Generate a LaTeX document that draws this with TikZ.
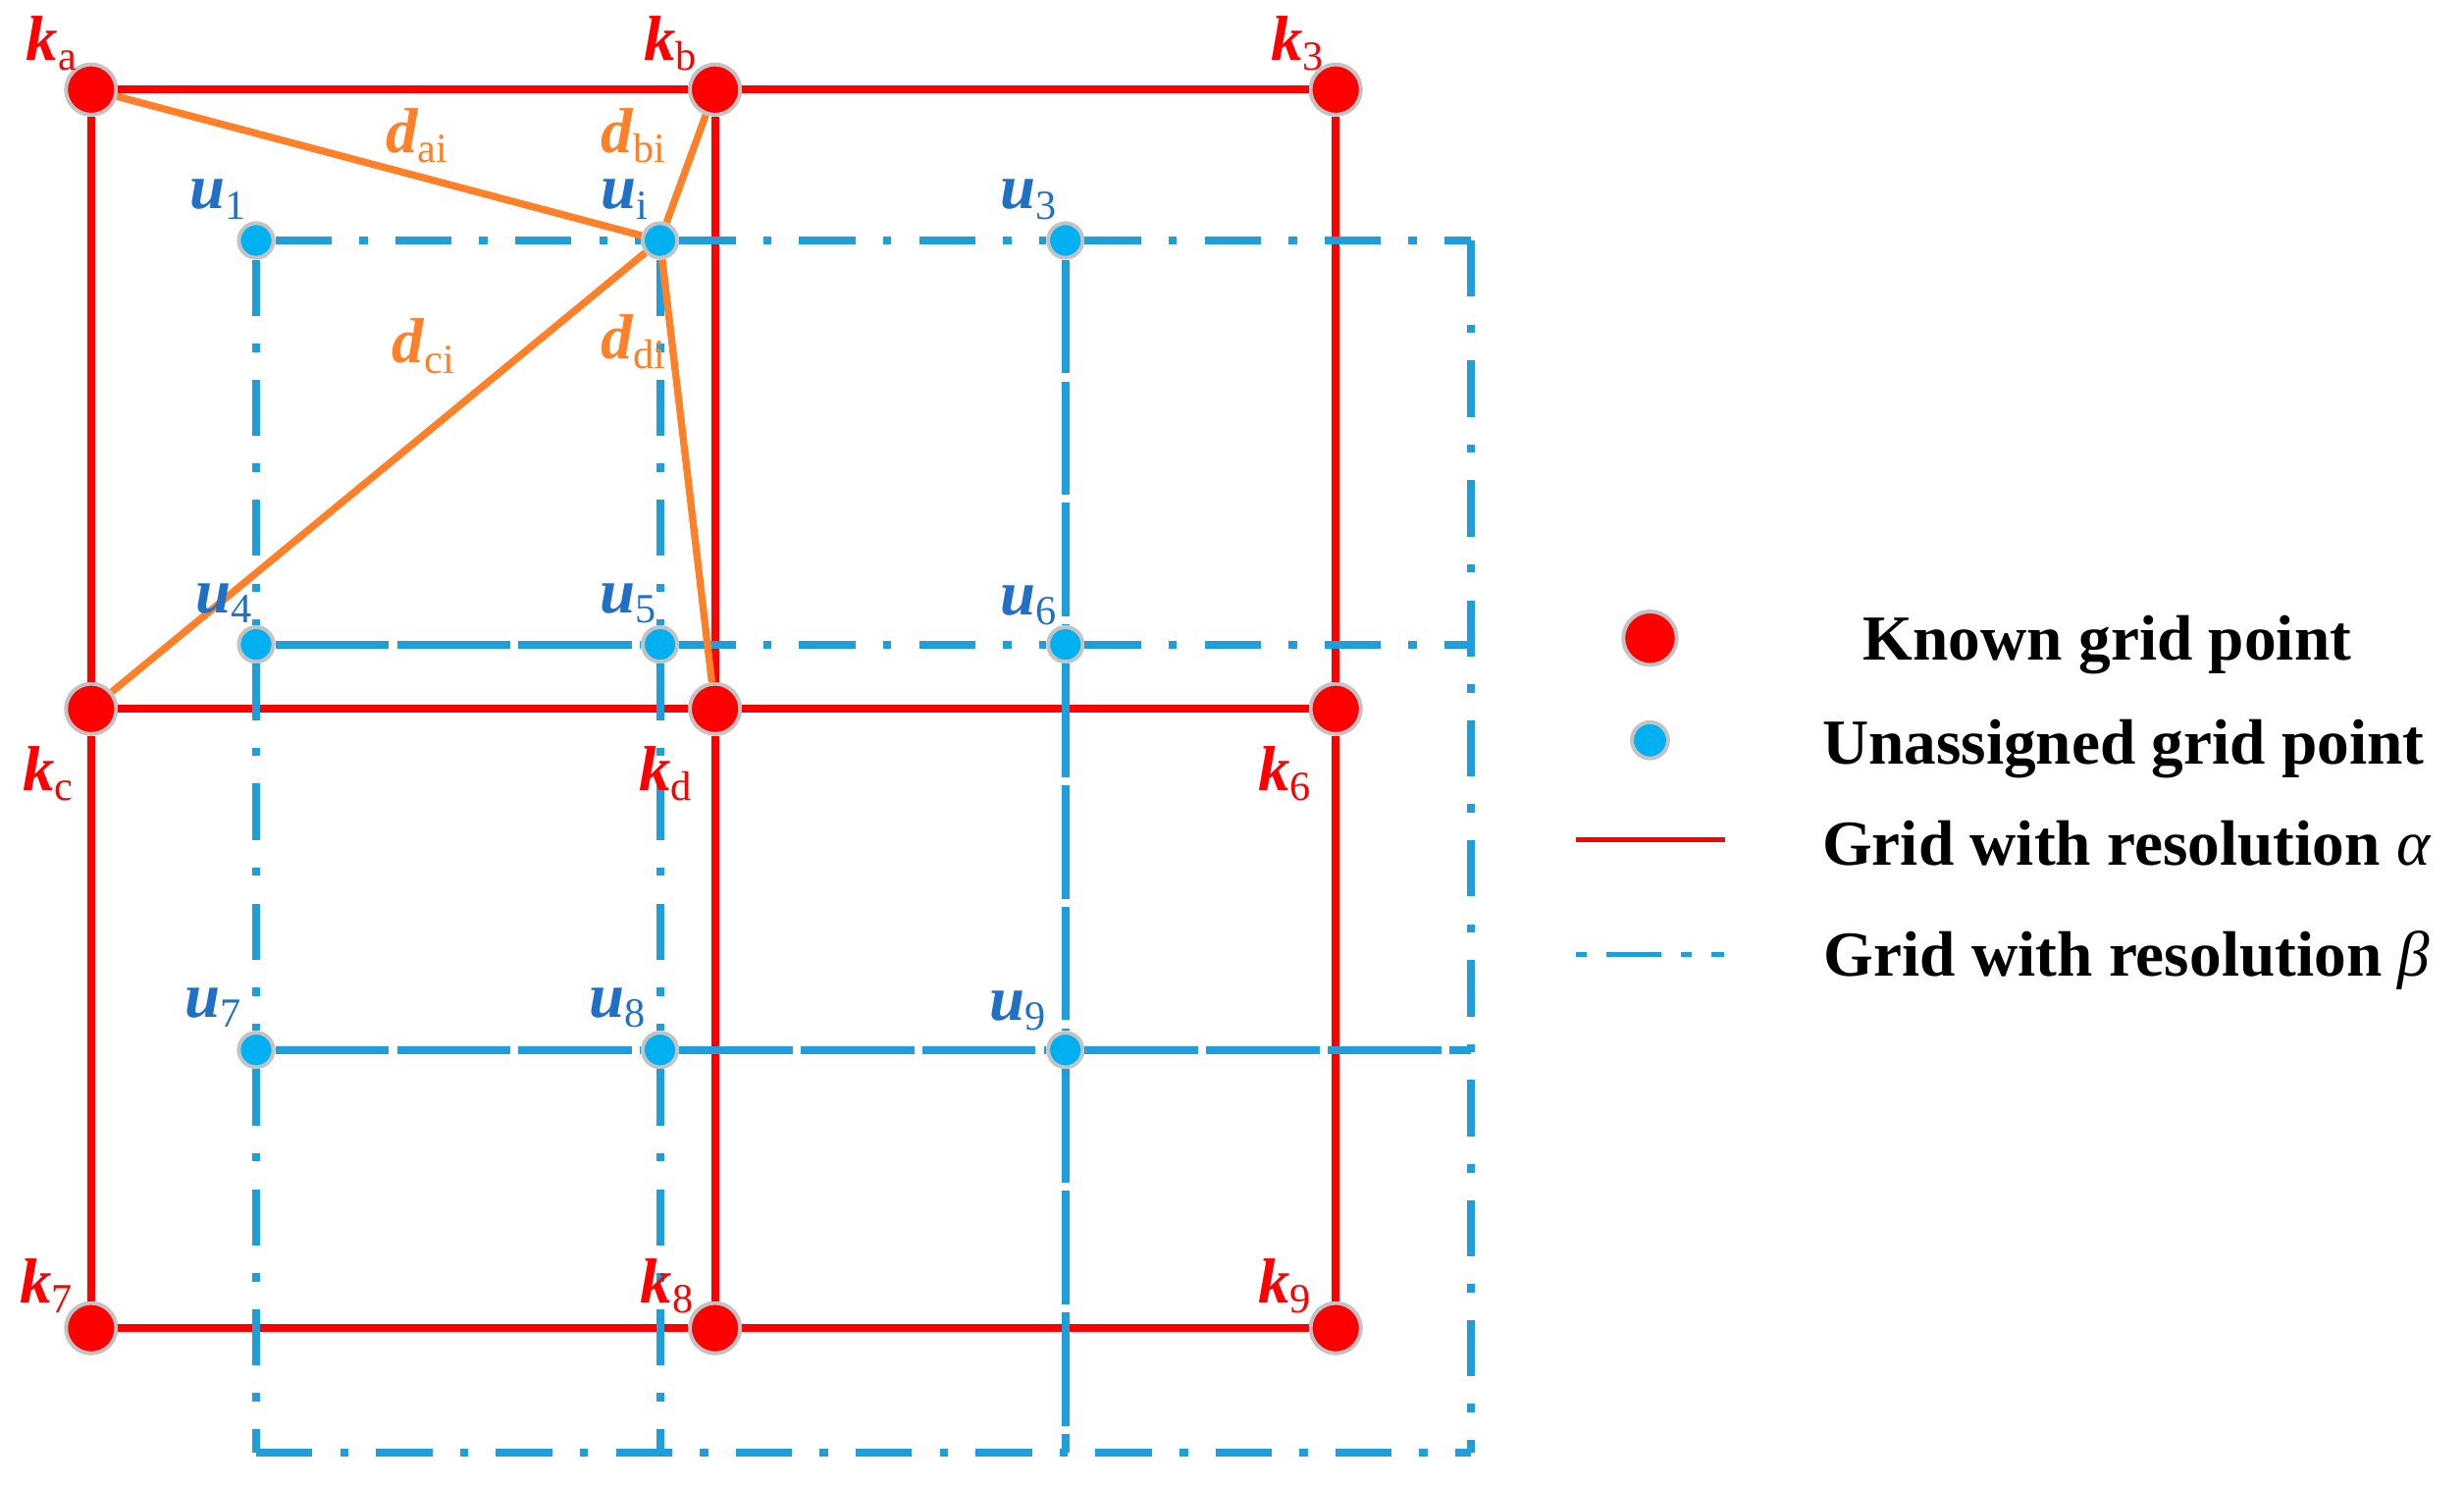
\documentclass[tikz,border=0pt]{standalone}
\usepackage{fontspec}
\setmainfont{Liberation Serif}

\definecolor{kred}{RGB}{255,0,0}
\definecolor{ublue}{RGB}{0,176,240}
\definecolor{lblue}{RGB}{30,158,218}
\definecolor{tblue}{RGB}{32,112,200}
\definecolor{dorange}{RGB}{255,128,40}
\definecolor{dotgray}{RGB}{195,195,195}

\newcommand{\subfnt}{\fontsize{7.5}{8}\selectfont\mdseries\upshape}
\newcommand{\kname}[1]{{\bfseries\itshape k}\raisebox{-1.8pt}{\subfnt #1}}
\newcommand{\uname}[1]{{\bfseries\itshape u}\raisebox{-1.8pt}{\subfnt #1}}
\newcommand{\dname}[1]{{\bfseries\itshape d}\raisebox{-1.8pt}{\subfnt #1}}

\tikzset{
  known/.style={circle, fill=kred, draw=dotgray, line width=0.7pt, minimum size=0.32cm, inner sep=0pt},
  unknown/.style={circle, fill=ublue, draw=dotgray, line width=0.7pt, minimum size=0.22cm, inner sep=0pt},
  gridA/.style={kred, line width=1.4pt},
  gridB/.style={lblue, line width=1.4pt, dash pattern=on 10.2pt off 5pt on 1.5pt off 5pt},
  gridBlong/.style={lblue, line width=1.4pt, dash pattern=on 20.5pt off 1.5pt},
  dist/.style={dorange, line width=1.3pt},
  labfont/.style={anchor=base west, inner sep=0pt, font=\fontsize{11.5}{13}\selectfont},
  klab/.style={labfont, text=kred},
  ulab/.style={labfont, text=tblue},
  dlab/.style={labfont, text=dorange},
  legtext/.style={anchor=base west, inner sep=0pt, font=\fontsize{11.6}{13}\selectfont\bfseries}
}

\begin{document}
\begin{tikzpicture}[x=0.01cm,y=-0.01cm]
  \useasboundingbox (0,0) rectangle (1568,945);

  % Known grid points
  \node[known] (ka) at (58,57) {};
  \node[known] (kb) at (455,57) {};
  \node[known] (k3) at (850,57) {};
  \node[known] (kc) at (58,451) {};
  \node[known] (kd) at (455,451) {};
  \node[known] (k6) at (850,451) {};
  \node[known] (k7) at (58,845) {};
  \node[known] (k8) at (455,845) {};
  \node[known] (k9) at (850,845) {};

  % Unassigned grid points
  \node[unknown] (u1) at (163,153) {};
  \node[unknown] (ui) at (420,153) {};
  \node[unknown] (u3) at (678,153) {};
  \node[unknown] (u4) at (163,410) {};
  \node[unknown] (u5) at (420,410) {};
  \node[unknown] (u6) at (678,410) {};
  \node[unknown] (u7) at (163,668) {};
  \node[unknown] (u8) at (420,668) {};
  \node[unknown] (u9) at (678,668) {};

  % Ends of the beta grid
  \coordinate (e1) at (936,153);
  \coordinate (e2) at (936,410);
  \coordinate (e3) at (936,668);
  \coordinate (e4) at (936,924);
  \coordinate (c1) at (163,924);
  \coordinate (c2) at (420,924);
  \coordinate (c3) at (678,924);

  % Grid alpha
  \draw[gridA] (ka) -- (kb) -- (k3);
  \draw[gridA] (kc) -- (kd) -- (k6);
  \draw[gridA] (k7) -- (k8) -- (k9);
  \draw[gridA] (ka) -- (kc) -- (k7);
  \draw[gridA] (kb) -- (kd) -- (k8);
  \draw[gridA] (k3) -- (k6) -- (k9);

  % Grid beta
  \draw[gridB] (u1) -- (ui) -- (u3) -- (e1);
  \draw[gridBlong] (u4) -- (u5);
  \draw[gridB] (u5) -- (u6) -- (e2);
  \draw[gridBlong] (u7) -- (u8) -- (u9) -- (e3);
  \draw[gridB] (c1) -- (c2) -- (c3) -- (e4);
  \draw[gridB] (u1) -- (u4) -- (u7) -- (c1);
  \draw[gridB] (ui) -- (u5) -- (u8) -- (c2);
  \draw[gridBlong] (u3) -- (u6) -- (u9) -- (c3);
  \draw[gridB] (e1) -- (e2) -- (e3) -- (e4);

  % Distances to u_i
  \draw[dist] (ka) -- (ui);
  \draw[dist] (kb) -- (ui);
  \draw[dist] (kc) -- (ui);
  \draw[dist] (kd) -- (ui);

  % Labels
  \node[klab] (lka) at (16,38.5) {\kname{a}};
  \node[klab] (lkb) at (409,38.5) {\kname{b}};
  \node[klab] (lk3) at (808,38.5) {\kname{3}};
  \node[klab] (lkc) at (14,503) {\kname{c}};
  \node[klab] (lkd) at (406,503) {\kname{d}};
  \node[klab] (lk6) at (800,503) {\kname{6}};
  \node[klab] (lk7) at (12,829) {\kname{7}};
  \node[klab] (lk8) at (407,829) {\kname{8}};
  \node[klab] (lk9) at (800,829) {\kname{9}};

  \node[ulab] (lu1) at (120,133) {\uname{1}};
  \node[ulab] (lui) at (382,133) {\uname{i}};
  \node[ulab] (lu3) at (636,133) {\uname{3}};
  \node[ulab] (lu4) at (124,390) {\uname{4}};
  \node[ulab] (lu5) at (381,390) {\uname{5}};
  \node[ulab] (lu6) at (636,391) {\uname{6}};
  \node[ulab] (lu7) at (117,647) {\uname{7}};
  \node[ulab] (lu8) at (374,647) {\uname{8}};
  \node[ulab] (lu9) at (629,649) {\uname{9}};

  \node[dlab] (ldai) at (245,97) {\dname{ai}};
  \node[dlab] (ldbi) at (382,97) {\dname{bi}};
  \node[dlab] (ldci) at (249,231) {\dname{ci}};
  \node[dlab] (lddi) at (382,228) {\dname{di}};

  % Legend
  \node[known, minimum size=0.34cm] (lgk) at (1050,406) {};
  \node[unknown, minimum size=0.23cm] (lgu) at (1050,471) {};
  \coordinate (la1) at (1003,534);
  \coordinate (la2) at (1098,534);
  \draw[kred, line width=0.85pt] (la1) -- (la2);
  \coordinate (lb1) at (1003,607);
  \coordinate (lb2) at (1098,607);
  \draw[lblue, line width=0.9pt, dash pattern=on 1.85pt off 3.6pt on 10pt off 3.6pt on 1.85pt off 3.6pt on 2.3pt off 3pt] (lb1) -- (lb2);

  \node[legtext] (tk) at (1185,420) {Known grid point};
  \node[legtext] (tu) at (1159,486) {Unassigned grid point};
  \node[legtext] (ta) at (1159,550.5) {Grid with resolution {\mdseries\itshape α}};
  \node[legtext] (tb) at (1160,621) {Grid with resolution {\mdseries\itshape β}};
\end{tikzpicture}
\end{document}
